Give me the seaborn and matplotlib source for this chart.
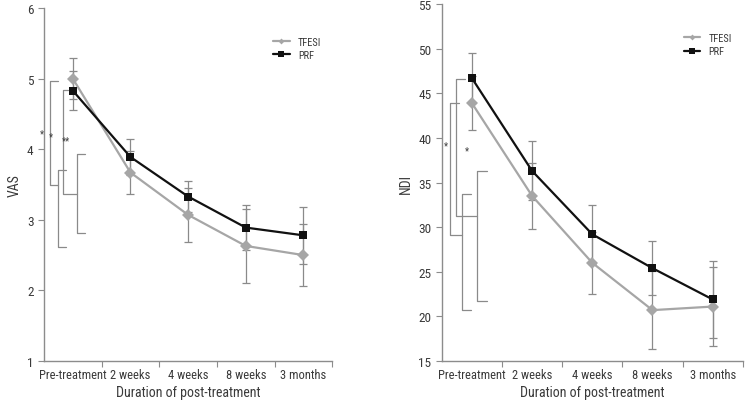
import numpy as np
import pandas as pd
import matplotlib
matplotlib.use("Agg")
import matplotlib.pyplot as plt
import seaborn as sns

timepoints = ["Pre-treatment", "2 weeks", "4 weeks", "8 weeks", "3 months"]
groups = ["TFESI", "PRF"]

# VAS
vas_tfesi = [5.00, 3.67, 3.07, 2.63, 2.50]
vas_tfesi_sd = [0.29, 0.31, 0.38, 0.53, 0.44]
vas_prf = [4.83, 3.89, 3.33, 2.89, 2.78]
vas_prf_sd = [0.28, 0.26, 0.22, 0.32, 0.40]

# NDI
ndi_tfesi = [43.9, 33.5, 26.0, 20.7, 21.1]
ndi_tfesi_sd = [3.0, 3.7, 3.5, 4.4, 4.4]
ndi_prf = [46.7, 36.3, 29.2, 25.4, 21.9]
ndi_prf_sd = [2.8, 3.3, 3.3, 3.0, 4.3]

# significance brackets: (x, y_top, y_bottom, x_top_tick, x_bottom_tick)
vas_brackets = [(-0.396, 4.96, 3.50, -0.252, -0.252),
                (-0.252, 3.71, 2.62, -0.124, -0.124),
                (-0.176, 4.84, 3.37, -0.078, 0.078),
                (0.078, 3.93, 2.81, 0.21, 0.21)]
vas_stars = [(-0.54, 4.22, "*"), (-0.384, 4.18, "*"), (-0.119, 4.12, "**")]

ndi_brackets = [(-0.356, 43.9, 29.1, -0.206, -0.167),
                (-0.167, 33.7, 20.7, -0.017, -0.017),
                (-0.267, 46.6, 31.3, -0.117, 0.093),
                (0.093, 36.3, 21.7, 0.25, 0.25)]
ndi_stars = [(-0.428, 39.2, "*"), (-0.083, 38.6, "*")]

sns.set_style("white")
plt.rcParams["font.family"] = ["Roboto Condensed", "Liberation Sans", "DejaVu Sans"]
plt.rcParams["font.size"] = 9

colors = {"TFESI": "#a6a6a6", "PRF": "#111111"}
markers = {"TFESI": "D", "PRF": "s"}
sizes = {"TFESI": 3.2, "PRF": 5.5}
axis_gray = "#8c8c8c"
text_gray = "#3a3a3a"


def draw(ax, tf, tf_sd, prf, prf_sd, ylabel, ylim, yticks, brackets, stars):
    x = np.arange(len(timepoints))
    df = pd.DataFrame({
        "x": np.concatenate([x, x]),
        "value": tf + prf,
        "group": ["TFESI"] * len(x) + ["PRF"] * len(x),
    })
    sd = {"TFESI": tf_sd, "PRF": prf_sd}
    for g in groups:
        sub = df[df["group"] == g]
        ax.errorbar(sub["x"], sub["value"], yerr=sd[g], fmt="none",
                    ecolor="#8a8a8a", elinewidth=0.9, capsize=3, capthick=0.9, zorder=1)
    sns.lineplot(data=df, x="x", y="value", hue="group", hue_order=groups,
                 palette=colors, style="group", markers=markers, dashes=False,
                 markeredgewidth=0, linewidth=1.6, ax=ax, zorder=3)
    for line, g in zip(ax.get_lines()[-2:], groups):
        line.set_markersize(sizes[g])

    for (bx, yt, yb, xt, xb) in brackets:
        ax.plot([xt, bx, bx, xb], [yt, yt, yb, yb], color="#8a8a8a", lw=0.9,
                clip_on=False, zorder=1)
    for (sx, sy, s) in stars:
        ax.text(sx, sy, s, ha="center", va="center", fontsize=7, color=text_gray,
                clip_on=False)

    ax.set_xlim(-0.5, len(timepoints) - 0.5)
    ax.set_ylim(*ylim)
    ax.set_yticks(yticks)
    ax.set_xticks(np.arange(len(timepoints)) + 0.5)
    ax.set_xticklabels([])
    ax.set_xticks(np.arange(len(timepoints)), minor=True)
    ax.set_xticklabels(timepoints, minor=True)
    ax.tick_params(axis="x", which="major", length=4, width=0.8, color=axis_gray,
                   direction="out", bottom=True)
    ax.tick_params(axis="x", which="minor", length=0, pad=5, labelcolor=text_gray,
                   labelsize=9)
    ax.tick_params(axis="y", length=4, width=0.8, color=axis_gray, direction="out",
                   left=True, labelcolor=text_gray, labelsize=9.5)
    for s in ["top", "right"]:
        ax.spines[s].set_visible(False)
    for s in ["left", "bottom"]:
        ax.spines[s].set_color(axis_gray)
        ax.spines[s].set_linewidth(1.0)
    ax.set_xlabel("Duration of post-treatment", fontsize=10, color=text_gray, labelpad=3)
    ax.set_ylabel(ylabel, fontsize=10, color=text_gray, labelpad=4)

    leg = ax.legend(loc="upper right", bbox_to_anchor=(0.995, 0.945), frameon=False,
                    fontsize=7.5, handlelength=1.6, handletextpad=0.8, labelspacing=0.3,
                    labelcolor=text_gray)
    for h, g in zip(leg.legend_handles, groups):
        h.set_markersize(3 if g == "TFESI" else 4.5)


fig = plt.figure(figsize=(7.45, 4.02), dpi=100)
ax1 = fig.add_axes([0.059, 0.0995, 0.387, 0.878])
ax2 = fig.add_axes([0.593, 0.0995, 0.404, 0.888])

draw(ax1, vas_tfesi, vas_tfesi_sd, vas_prf, vas_prf_sd, "VAS", (1, 6),
     [1, 2, 3, 4, 5, 6], vas_brackets, vas_stars)
draw(ax2, ndi_tfesi, ndi_tfesi_sd, ndi_prf, ndi_prf_sd, "NDI", (15, 55),
     list(range(15, 56, 5)), ndi_brackets, ndi_stars)

fig.savefig("out.png", dpi=100)
